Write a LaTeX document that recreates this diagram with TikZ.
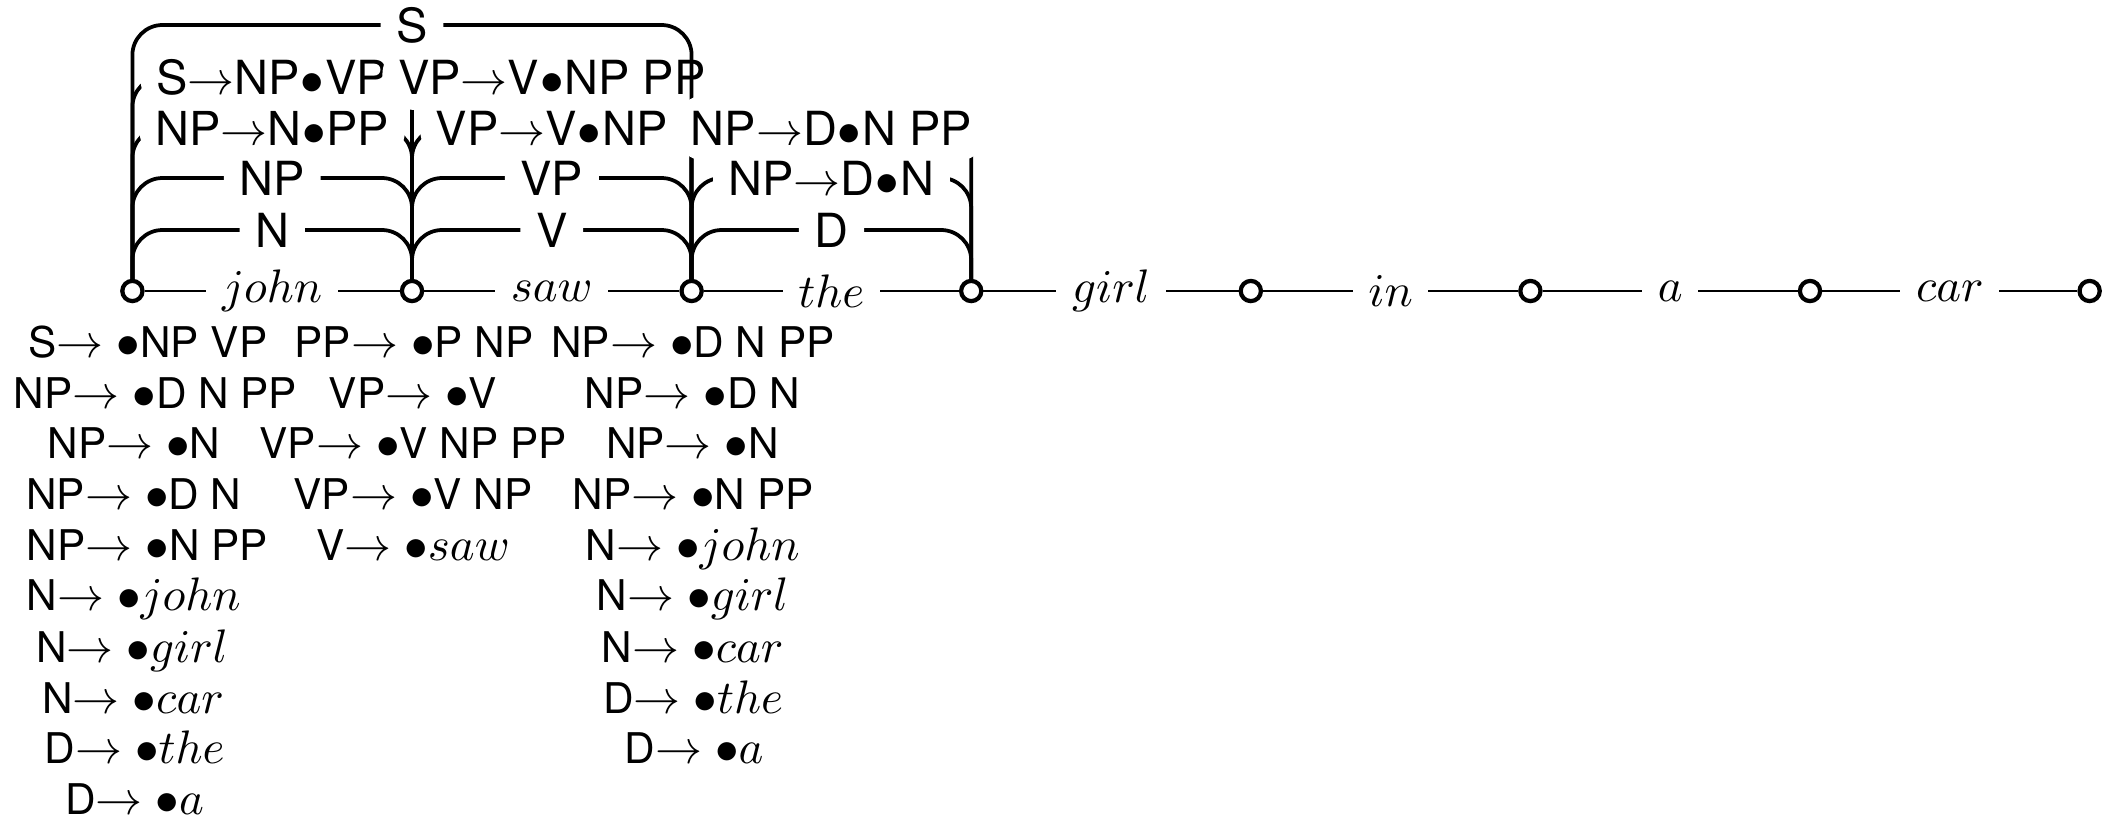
\documentclass[tikz,border=0pt]{standalone}
\usepackage{fontspec}
\setmainfont{TeX Gyre Heros}
\usetikzlibrary{calc}
\newcommand{\bt}[1]{{\fontsize{9pt}{10pt}\selectfont #1}}
\newcommand{\ra}{$\rightarrow$}
\newcommand{\rab}{$\rightarrow\bullet$}
\newcommand{\db}{\kern0.2pt$\bullet$\kern0.2pt}
\begin{document}
\begin{tikzpicture}[x=0.2128pt,y=-0.2128pt,
  vtx/.style={circle,draw,line width=0.9pt,fill=white,minimum size=4.3pt,inner sep=0pt},
  baseline/.style={line width=0.4pt},
  word/.style={fill=white},
  arc/.style={thick,rounded corners=6.4pt},
  lab/.style={fill=white},
  item/.style={anchor=base,inner sep=0pt}]
\useasboundingbox (0,0) rectangle (2118,818);
\foreach \i in {0,...,7} \node[vtx] (n\i) at (132.4+279.6*\i,291) {};
\coordinate (L1) at (0,230);
\coordinate (L2) at (0,178);
\coordinate (L3) at (0,128);
\coordinate (L4) at (0,77);
\coordinate (L5) at (0,25);
% words
\draw[baseline] (n0) -- node[word]{$john$} (n1);
\draw[baseline] (n1) -- node[word]{$saw$} (n2);
\draw[baseline] (n2) -- node[word]{$the$} (n3);
\draw[baseline] (n3) -- node[word]{$girl$} (n4);
\draw[baseline] (n4) -- node[word]{$in$} (n5);
\draw[baseline] (n5) -- node[word]{$a$} (n6);
\draw[baseline] (n6) -- node[word]{$car$} (n7);
% edges 0-1
\draw[arc] (n0) -- (n0|-L1) -- node[lab]{N} (n1|-L1) -- (n1);
\draw[arc] (n0) -- (n0|-L3) -- node[lab]{NP\ra N\db PP} (n1|-L3) -- (n1);
\draw[arc] (n0) -- (n0|-L2) -- node[lab]{NP} (n1|-L2) -- (n1);
\draw[arc] (n0) -- (n0|-L4) -- node[lab]{S\ra NP\db VP} (n1|-L4) -- (n1);
% edges 1-2
\draw[arc] (n1) -- (n1|-L1) -- node[lab]{V} (n2|-L1) -- (n2);
\draw[arc] (n1) -- (n1|-L4) -- node[lab]{VP\ra V\db NP PP} (n2|-L4) -- (n2);
\draw[arc] (n1) -- (n1|-L3) -- node[lab]{VP\ra V\db NP} (n2|-L3) -- (n2);
\draw[arc] (n1) -- (n1|-L2) -- node[lab]{VP} (n2|-L2) -- (n2);
% edge 0-2
\draw[arc] (n0) -- (n0|-L5) -- node[lab]{S} (n2|-L5) -- (n2);
% edges 2-3
\draw[arc] (n2) -- (n2|-L1) -- node[lab]{D} (n3|-L1) -- (n3);
\draw[arc] (n2) -- (n2|-L3) -- node[lab]{NP\ra D\db N PP} (n3|-L3) -- (n3);
\draw[arc] (n2) -- (n2|-L2) -- node[lab]{NP\ra D\db N} (n3|-L2) -- (n3);
% predicted items, column 0
\node[item] (a1) at (148,357) {\bt{S}\rab\bt{NP VP}};
\node[item] (a2) at (155.5,408) {\bt{NP}\rab\bt{D N PP}};
\node[item] (a3) at (134,458) {\bt{NP}\rab\bt{N}};
\node[item] (a4) at (134,509) {\bt{NP}\rab\bt{D N}};
\node[item] (a5) at (147.5,560) {\bt{NP}\rab\bt{N PP}};
\node[item] (a6) at (133.6,610) {\bt{N}$\rightarrow\bullet john$};
\node[item] (a7) at (132,662) {\bt{N}$\rightarrow\bullet girl$};
\node[item] (a8) at (133,713) {\bt{N}$\rightarrow\bullet car$};
\node[item] (a9) at (134.5,763) {\bt{D}$\rightarrow\bullet the$};
\node[item] (a10) at (134.5,814) {\bt{D}$\rightarrow\bullet a$};
% column 1
\node[item] (b1) at (414,357) {\bt{PP}\rab\bt{P NP}};
\node[item] (b2) at (413,408) {\bt{VP}\rab\bt{V}};
\node[item] (b3) at (413,458) {\bt{VP}\rab\bt{V NP PP}};
\node[item] (b4) at (413,509) {\bt{VP}\rab\bt{V NP}};
\node[item] (b5) at (413,560) {\bt{V}$\rightarrow\bullet saw$};
% column 2
\node[item] (c1) at (693,357) {\bt{NP}\rab\bt{D N PP}};
\node[item] (c2) at (692.5,408) {\bt{NP}\rab\bt{D N}};
\node[item] (c3) at (692.5,458) {\bt{NP}\rab\bt{N}};
\node[item] (c4) at (693,509) {\bt{NP}\rab\bt{N PP}};
\node[item] (c5) at (692.6,560) {\bt{N}$\rightarrow\bullet john$};
\node[item] (c6) at (692.6,610) {\bt{N}$\rightarrow\bullet girl$};
\node[item] (c7) at (692.6,662) {\bt{N}$\rightarrow\bullet car$};
\node[item] (c8) at (693,713) {\bt{D}$\rightarrow\bullet the$};
\node[item] (c9) at (694,763) {\bt{D}$\rightarrow\bullet a$};
\end{tikzpicture}
\end{document}
